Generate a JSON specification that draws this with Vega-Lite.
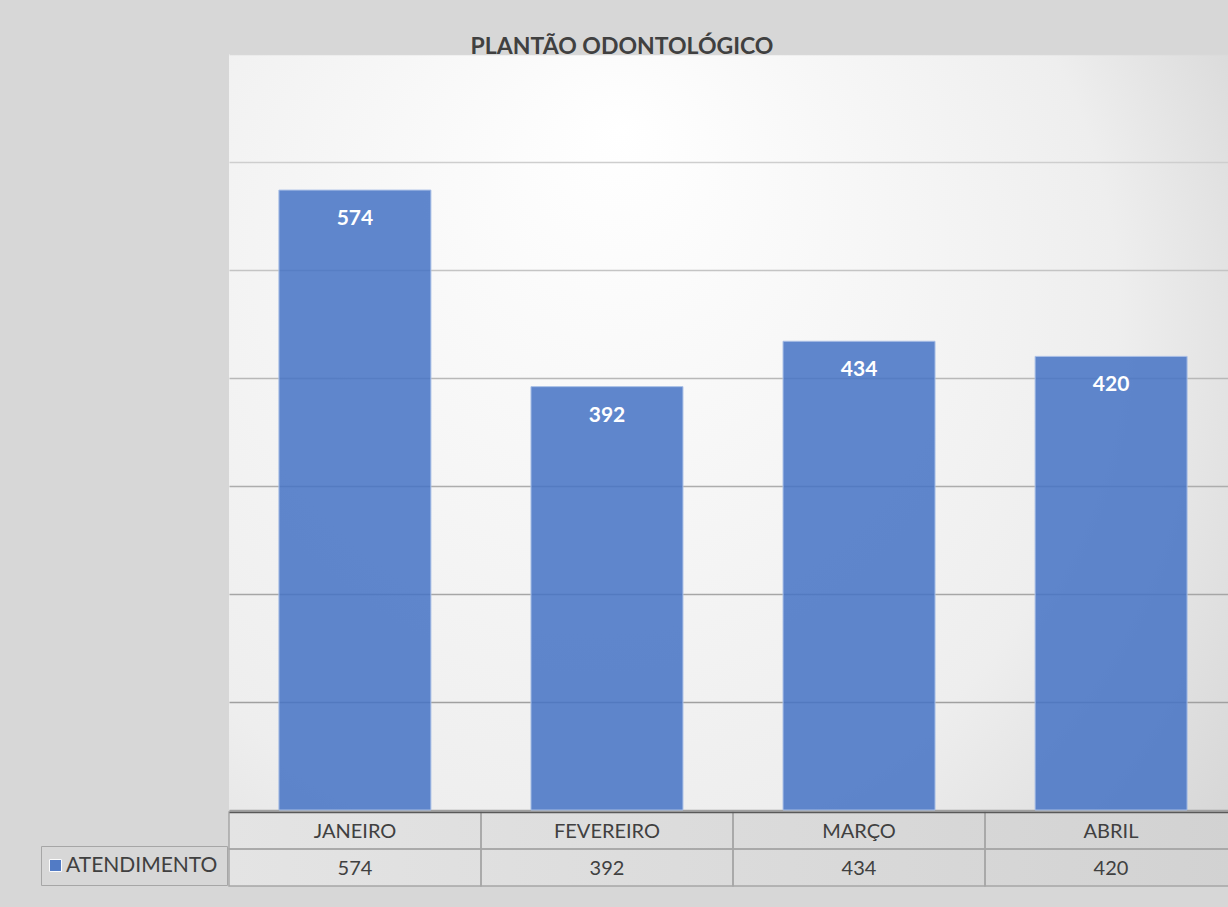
{
  "$schema": "https://vega.github.io/schema/vega-lite/v6.json",
  "background": "#d7d7d7",
  "padding": {"left": 40, "top": 36, "right": -9, "bottom": 24},
  "title": {
    "text": "PLANTÃO ODONTOLÓGICO",
    "anchor": "middle",
    "frame": "group",
    "dx": -111,
    "offset": -5,
    "fontSize": 23,
    "fontWeight": "bold",
    "color": "#404040",
    "font": "Lato"
  },
  "datasets": {
    "plantao": [
      {"mes": "JANEIRO", "atendimento": 574, "serie": "ATENDIMENTO"},
      {"mes": "FEVEREIRO", "atendimento": 392, "serie": "ATENDIMENTO"},
      {"mes": "MARÇO", "atendimento": 434, "serie": "ATENDIMENTO"},
      {"mes": "ABRIL", "atendimento": 420, "serie": "ATENDIMENTO"}
    ]
  },
  "data": {"name": "plantao"},
  "spacing": 0,
  "resolve": {"scale": {"x": "independent", "y": "independent"}},
  "config": {
    "font": "Lato",
    "view": {"stroke": null}
  },
  "vconcat": [
    {
      "width": 1008,
      "height": 756,
      "view": {
        "stroke": null,
        "fill": {
          "gradient": "radial",
          "x1": 0.39, "y1": 0.2, "r1": 0,
          "x2": 0.33, "y2": 0.5, "r2": 0.88,
          "stops": [
            {"offset": 0, "color": "#ffffff"},
            {"offset": 0.6, "color": "#eeeeee"},
            {"offset": 1, "color": "#cdcdcd"}
          ]
        }
      },
      "encoding": {
        "x": {
          "field": "mes",
          "type": "nominal",
          "sort": null,
          "scale": {"paddingInner": 0.397, "paddingOuter": 0.198},
          "axis": null
        },
        "y": {
          "field": "atendimento",
          "type": "quantitative",
          "scale": {"domain": [0, 700], "nice": false},
          "axis": {
            "values": [0, 100, 200, 300, 400, 500, 600, 700],
            "grid": true,
            "labels": false,
            "ticks": false,
            "domain": false,
            "title": null,
            "gridWidth": 1.5,
            "gridColor": {
              "condition": [
                {"test": "datum.value >= 700", "value": "#d8d8d8"},
                {"test": "datum.value >= 600", "value": "#cecece"},
                {"test": "datum.value >= 500", "value": "#c4c4c4"},
                {"test": "datum.value >= 400", "value": "#b8b8b8"},
                {"test": "datum.value >= 300", "value": "#adadad"},
                {"test": "datum.value >= 200", "value": "#a6a6a6"}
              ],
              "value": "#a0a0a0"
            }
          }
        }
      },
      "layer": [
        {
          "mark": {"type": "bar", "fillOpacity": 0.85, "stroke": "#a9bfe6", "strokeWidth": 1},
          "encoding": {
            "color": {
              "field": "serie",
              "type": "nominal",
              "scale": {"range": ["#4472c4"]},
              "legend": {
                "title": null,
                "orient": "none",
                "legendX": -188,
                "legendY": 792,
                "symbolType": "square",
                "symbolSize": 144,
                "symbolOpacity": 0.9,
                "symbolOffset": -5,
                "symbolStrokeColor": "#ffffff",
                "symbolStrokeWidth": 1,
                "labelFontSize": 21,
                "labelColor": "#404040",
                "labelFont": "Lato",
                "labelOffset": 0,
                "padding": 9,
                "strokeColor": "#a6a6a6"
              }
            }
          }
        },
        {
          "mark": {
            "type": "text",
            "baseline": "alphabetic",
            "dy": 35,
            "fill": "#ffffff",
            "fontWeight": "bold",
            "fontSize": 21
          },
          "encoding": {"text": {"field": "atendimento", "type": "quantitative"}}
        }
      ]
    },
    {
      "width": 1008,
      "height": 74,
      "view": {
        "stroke": null,
        "fill": {
          "gradient": "linear",
          "x1": 0, "y1": 0, "x2": 1, "y2": 0,
          "stops": [
            {"offset": 0, "color": "#e4e4e4"},
            {"offset": 1, "color": "#d2d2d2"}
          ]
        }
      },
      "transform": [{"fold": ["mes", "atendimento"], "as": ["linha", "valor"]}],
      "encoding": {
        "x": {
          "field": "mes",
          "type": "nominal",
          "sort": null,
          "scale": {"paddingInner": 0, "paddingOuter": 0},
          "axis": {
            "orient": "top",
            "domain": true,
            "domainColor": "#595959",
            "domainWidth": 1.5,
            "labels": false,
            "ticks": false,
            "title": null,
            "zindex": 1
          }
        },
        "y": {
          "field": "linha",
          "type": "nominal",
          "sort": ["mes", "atendimento"],
          "scale": {"paddingInner": 0, "paddingOuter": 0},
          "axis": null
        }
      },
      "layer": [
        {"mark": {"type": "rect", "filled": false, "stroke": "#a6a6a6", "strokeWidth": 1.5}},
        {
          "mark": {"type": "text", "fontSize": 20, "fill": "#404040", "dy": 1},
          "encoding": {"text": {"field": "valor"}}
        }
      ]
    }
  ]
}
